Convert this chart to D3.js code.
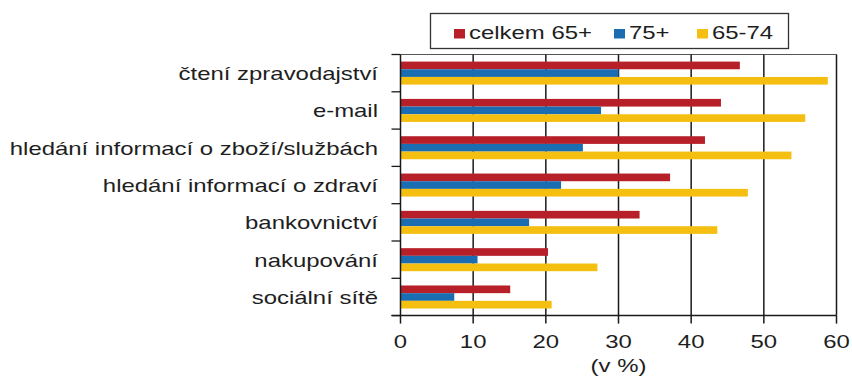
<!DOCTYPE html>
<html>
<head>
<meta charset="utf-8">
<script src="https://cdn.jsdelivr.net/npm/d3@7"></script>
<style>
  html, body { margin: 0; padding: 0; background: #fff; }
  svg { display: block; }
  text { font-family: "Liberation Sans", Arial, sans-serif; fill: #1e1e1e; }
</style>
</head>
<body>
<svg id="chart" width="852" height="377"></svg>
<script>
// Internet activities of seniors, share of persons (v %)
const categories = [
  "čtení zpravodajství",
  "e-mail",
  "hledání informací o zboží/službách",
  "hledání informací o zdraví",
  "bankovnictví",
  "nakupování",
  "sociální sítě"
];
const seriesNames = ["celkem 65+", "75+", "65-74"];
const celkem65 = [46.7, 44.1, 41.9, 37.1, 32.9, 20.3, 15.1];
const age75 = [30.0, 27.6, 25.1, 22.1, 17.7, 10.6, 7.4];
const age6574 = [58.8, 55.7, 53.8, 47.8, 43.6, 27.1, 20.8];
const xTicks = [0, 10, 20, 30, 40, 50, 60];
const axisTitle = "(v %)";

const seriesValues = [celkem65, age75, age6574];
const colors = ["#b71f29", "#1b6db1", "#f5bf12"];

const svg = d3.select("#chart");
const stretch = 1.33;   // horizontally widened lettering
const fontSize = 18;

const plot = { left: 400.5, right: 836.5, top: 54.5, bottom: 315.6 };

const x = d3.scaleLinear().domain([0, 60]).range([plot.left, plot.right]);
const y0 = d3.scaleBand().domain(categories)
  .range([plot.top, plot.bottom]).paddingInner(0.383).paddingOuter(0.19);
const y1 = d3.scaleBand().domain(seriesNames).range([0, y0.bandwidth()]);

// top frame line
svg.append("line")
  .attr("x1", plot.left).attr("x2", plot.right)
  .attr("y1", plot.top).attr("y2", plot.top)
  .attr("stroke", "#555").attr("stroke-width", 1.2);

// vertical gridlines
svg.append("g").selectAll("line")
  .data(xTicks.filter(d => d > 0))
  .join("line")
  .attr("x1", d => x(d)).attr("x2", d => x(d))
  .attr("y1", plot.top).attr("y2", plot.bottom)
  .attr("stroke", "#1a1a1a").attr("stroke-width", 1.5);

// bars
const rows = categories.map((c, i) => ({ c, vals: seriesNames.map((s, j) => ({ s, v: seriesValues[j][i], col: colors[j] })) }));
const groups = svg.append("g").selectAll("g")
  .data(rows).join("g")
  .attr("transform", d => `translate(0,${y0(d.c)})`);
groups.selectAll("rect")
  .data(d => d.vals).join("rect")
  .attr("x", x(0))
  .attr("y", d => y1(d.s))
  .attr("width", d => x(d.v) - x(0))
  .attr("height", y1.bandwidth())
  .attr("fill", d => d.col);

// y axis: line, boundary ticks and category labels
const step = y0.step();
const boundaries = d3.range(categories.length + 1).map(i => plot.top + i * (plot.bottom - plot.top) / categories.length);
svg.append("line")
  .attr("x1", plot.left).attr("x2", plot.left)
  .attr("y1", plot.top).attr("y2", plot.bottom)
  .attr("stroke", "#1a1a1a").attr("stroke-width", 1.5);
svg.append("g").selectAll("line")
  .data(boundaries).join("line")
  .attr("x1", plot.left - 9).attr("x2", plot.left)
  .attr("y1", d => d).attr("y2", d => d)
  .attr("stroke", "#1a1a1a").attr("stroke-width", 1.3);
svg.append("g").selectAll("text")
  .data(categories).join("text")
  .attr("transform", d => `translate(378,${y0(d) + y0.bandwidth() / 2 + 7}) scale(${stretch},1)`)
  .attr("text-anchor", "end")
  .attr("font-size", fontSize)
  .text(d => d);

// x axis
svg.append("line")
  .attr("x1", plot.left - 9).attr("x2", plot.right)
  .attr("y1", plot.bottom).attr("y2", plot.bottom)
  .attr("stroke", "#1a1a1a").attr("stroke-width", 1.5);
svg.append("g").selectAll("line")
  .data(xTicks).join("line")
  .attr("x1", d => x(d)).attr("x2", d => x(d))
  .attr("y1", plot.bottom).attr("y2", plot.bottom + 8)
  .attr("stroke", "#1a1a1a").attr("stroke-width", 1.5);
svg.append("g").selectAll("text")
  .data(xTicks).join("text")
  .attr("transform", d => `translate(${x(d)},348) scale(${stretch},1)`)
  .attr("text-anchor", "middle")
  .attr("font-size", fontSize)
  .text(d => d);
svg.append("text")
  .attr("transform", `translate(${x(30)},372) scale(${stretch},1)`)
  .attr("text-anchor", "middle")
  .attr("font-size", fontSize)
  .text(axisTitle);

// legend
const legend = svg.append("g");
legend.append("rect")
  .attr("x", 430.5).attr("y", 13.5).attr("width", 358).attr("height", 35)
  .attr("fill", "#fff").attr("stroke", "#333").attr("stroke-width", 1.3);
const legendX = [454, 614, 697];
const items = legend.selectAll("g.item")
  .data(seriesNames).join("g")
  .attr("class", "item")
  .attr("transform", (d, i) => `translate(${legendX[i]},0)`);
items.append("rect")
  .attr("x", 0).attr("y", 29).attr("width", 11).attr("height", 9.5)
  .attr("fill", (d, i) => colors[i]);
items.append("text")
  .attr("transform", `translate(15,38.5) scale(${stretch},1)`)
  .attr("font-size", fontSize)
  .text(d => d);
</script>
</body>
</html>
